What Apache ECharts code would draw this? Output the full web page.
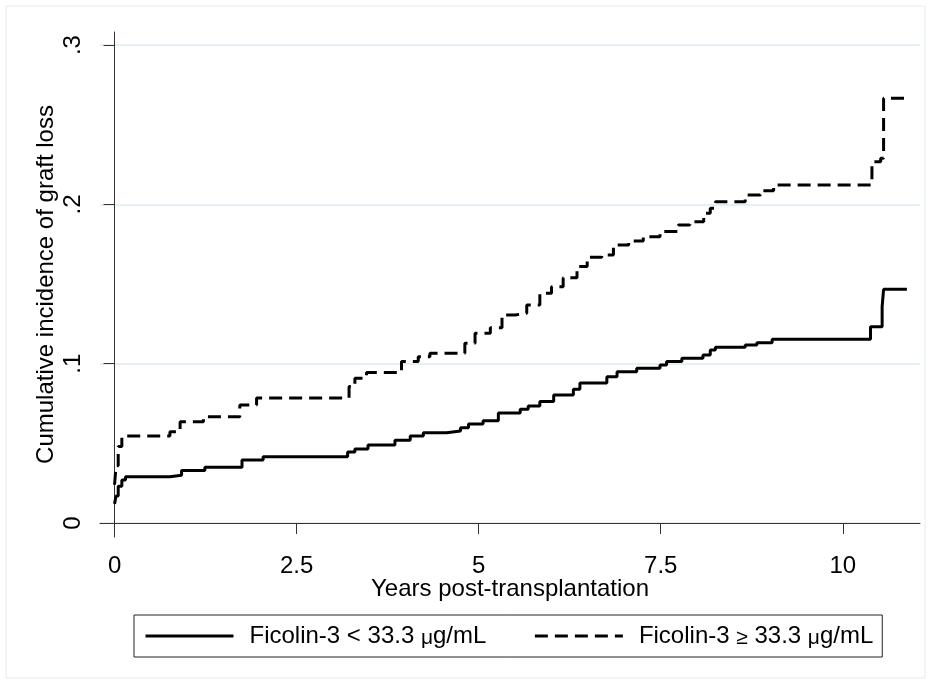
<!DOCTYPE html>
<html>
<head>
<meta charset="utf-8">
<script src="https://cdn.jsdelivr.net/npm/echarts@6/dist/echarts.min.js"></script>
<style>
html,body{margin:0;padding:0;background:#fff;}
#chart{width:931px;height:684px;}
</style>
</head>
<body>
<div id="chart"></div>
<script>
// years after transplant and cumulative incidence, low ficolin-3 group
var lowTimes  = [0, 0.02, 0.05, 0.1, 0.15, 0.76, 0.92, 1.24, 1.75, 2.04, 3.2, 3.3, 3.48, 3.85, 4.06, 4.24, 4.56, 4.75, 4.86, 5.06, 5.27, 5.57, 5.68, 5.84, 6.03, 6.3, 6.39, 6.76, 6.9, 7.17, 7.49, 7.58, 7.79, 8.08, 8.18, 8.25, 8.66, 8.82, 9.03, 10.38, 10.54, 10.56, 10.88];
var lowValues = [0.012, 0.017, 0.023, 0.027, 0.029, 0.030, 0.033, 0.035, 0.0395, 0.0416, 0.0445, 0.0465, 0.049, 0.052, 0.0546, 0.0567, 0.0578, 0.0598, 0.0621, 0.0642, 0.069, 0.0714, 0.0734, 0.0762, 0.0803, 0.084, 0.0879, 0.0918, 0.095, 0.0971, 0.0992, 0.1013, 0.1034, 0.1055, 0.1086, 0.1103, 0.1117, 0.1132, 0.1153, 0.1232, 0.1358, 0.1467, 0.1467];

// high ficolin-3 group
var highTimes  = [0, 0.02, 0.05, 0.1, 0.76, 0.9, 1.22, 1.72, 1.95, 3.22, 3.3, 3.46, 3.94, 4.17, 4.33, 4.81, 4.95, 5.16, 5.32, 5.5, 5.66, 5.84, 6.0, 6.16, 6.35, 6.49, 6.69, 6.85, 7.06, 7.26, 7.49, 7.74, 7.9, 8.09, 8.18, 8.25, 8.66, 8.87, 9.05, 10.4, 10.52, 10.56, 10.86];
var highValues = [0.024, 0.036, 0.048, 0.0546, 0.0573, 0.0636, 0.0667, 0.074, 0.0785, 0.0856, 0.0908, 0.0944, 0.1013, 0.1044, 0.1065, 0.1128, 0.1191, 0.1226, 0.1306, 0.1316, 0.1368, 0.1442, 0.1483, 0.154, 0.161, 0.1668, 0.1682, 0.1745, 0.177, 0.1797, 0.1829, 0.1871, 0.1891, 0.1944, 0.1975, 0.2017, 0.2059, 0.2086, 0.2122, 0.2268, 0.229, 0.2666, 0.2666];

var xTicks = [0, 2.5, 5, 7.5, 10];
var yTicks = [0, 0.1, 0.2, 0.3];
var seriesNames = ['Ficolin-3 < 33.3 \u03bcg/mL', 'Ficolin-3 \u2265 33.3 \u03bcg/mL'];

function pairs(ts, vs) {
    return ts.map(function (t, i) { return [t, vs[i]]; });
}

// small lowered symbols like the stata symbol font
function legendText(name) {
    return name.replace('\u2265', '{s|\u2265}').replace('\u03bc', '{s|\u03bc}');
}

var font = 'Liberation Sans';
var chart = echarts.init(document.getElementById('chart'));
chart.setOption({
    backgroundColor: '#fff',
    animation: false,
    graphic: [{
        type: 'rect',
        shape: {x: 6, y: 6, width: 919, height: 672},
        style: {fill: 'none', stroke: '#e3ecf1', lineWidth: 1}
    }],
    grid: {left: 100, right: 11, top: 32, bottom: 147},
    xAxis: {
        type: 'value',
        min: -0.2,
        max: 11.06,
        name: 'Years post-transplantation',
        nameLocation: 'middle',
        nameMoveOverlap: false,
        nameGap: 40,
        nameTextStyle: {fontFamily: font, fontSize: 24, color: '#000'},
        axisLine: {show: true, lineStyle: {color: '#333', width: 1}},
        axisTick: {show: true, length: 11, customValues: xTicks, lineStyle: {color: '#333'}},
        axisLabel: {customValues: xTicks, margin: 17, fontFamily: font, fontSize: 24, color: '#000'},
        splitLine: {show: false}
    },
    yAxis: {
        type: 'value',
        min: -0.0088,
        max: 0.3082,
        name: 'Cumulative incidence of graft loss',
        nameLocation: 'middle',
        nameMoveOverlap: false,
        nameGap: 42,
        nameTextStyle: {fontFamily: font, fontSize: 24, color: '#000'},
        axisLine: {show: true, lineStyle: {color: '#333', width: 1}},
        axisTick: {show: true, length: 11, customValues: yTicks, lineStyle: {color: '#333'}},
        axisLabel: {
            customValues: yTicks, rotate: 90, margin: 15,
            fontFamily: font, fontSize: 24, color: '#000',
            formatter: function (v) { return v === 0 ? '0' : String(v).replace(/^0/, ''); }
        },
        splitLine: {show: true, lineStyle: {color: '#e6eff3', width: 2}}
    },
    legend: {
        left: 134,
        top: 615,
        orient: 'horizontal',
        itemWidth: 88,
        itemHeight: 22,
        itemGap: 47,
        padding: [8, 9, 8, 10],
        borderColor: '#222',
        borderWidth: 1,
        itemStyle: {opacity: 0},
        lineStyle: {width: 3},
        formatter: legendText,
        textStyle: {
            fontFamily: font, fontSize: 24, color: '#000', lineHeight: 26, padding: [0, 0, 0, 11],
            rich: {s: {fontFamily: font, fontSize: 21, color: '#000', lineHeight: 18, verticalAlign: 'bottom'}}
        },
        data: seriesNames
    },
    series: [{
        name: seriesNames[0],
        type: 'line',
        step: 'end',
        symbol: 'none',
        itemStyle: {color: '#000'},
        lineStyle: {color: '#000', width: 3, type: 'solid'},
        data: pairs(lowTimes, lowValues)
    }, {
        name: seriesNames[1],
        type: 'line',
        step: 'end',
        symbol: 'none',
        itemStyle: {color: '#000'},
        lineStyle: {color: '#000', width: 3, type: [13, 7]},
        data: pairs(highTimes, highValues)
    }]
});
</script>
</body>
</html>
